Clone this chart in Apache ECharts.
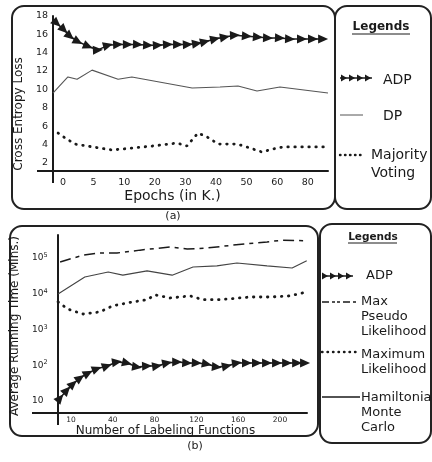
<!DOCTYPE html>
<html>
<head>
<meta charset="utf-8">
<script src="https://cdn.jsdelivr.net/npm/echarts@6/dist/echarts.min.js"></script>
<style>
  html, body { margin: 0; padding: 0; background: #fff; }
  #chart { width: 432px; height: 462px; }
</style>
</head>
<body>
<div id="chart"></div>
<script>
// (a) loss per epoch. x values are positions on the (unevenly labelled) epoch axis: 0 = "0", 1 = "5", ...
const epochLabels = ['0', '5', '10', '20', '30', '40', '50', '60', '80'];
const lossTicks = [2, 4, 6, 8, 10, 12, 14, 16, 18];

const adpA_x = [-0.2, 0.03, 0.23, 0.49, 0.82, 1.14, 1.47, 1.8, 2.12, 2.45, 2.78, 3.1, 3.43, 3.76,
    4.08, 4.38, 4.64, 4.97, 5.29, 5.62, 6.01, 6.37, 6.7, 7.09, 7.42, 7.81, 8.17, 8.5];
const adpA_y = [17.2, 16.5, 15.8, 15.2, 14.7, 14.3, 14.8, 14.9, 14.9, 14.9, 14.8, 14.8, 14.9, 14.9,
    14.9, 15.0, 15.2, 15.5, 15.7, 15.9, 15.8, 15.7, 15.6, 15.6, 15.5, 15.5, 15.5, 15.5];

const dpA_x = [-0.33, 0.16, 0.46, 0.95, 1.8, 2.25, 4.22, 5.13, 5.72, 6.34, 7.09, 8.66];
const dpA_y = [9.6, 11.35, 11.1, 12.1, 11.1, 11.35, 10.15, 10.26, 10.37, 9.82, 10.26, 9.6];

const mvA_x = [-0.16, 0.07, 0.39, 0.98, 1.6, 2.29, 2.94, 3.73, 4.05, 4.41, 4.71, 5.07, 5.69, 6.01,
    6.5, 6.86, 7.19, 8.63];
const mvA_y = [5.24, 4.7, 4.04, 3.72, 3.39, 3.61, 3.83, 4.15, 3.83, 5.24, 4.81, 4.04, 4.04, 3.72,
    3.17, 3.5, 3.72, 3.72];

// (b) running time per number of labeling functions, same idea for x
const lfLabels = ['10', '40', '80', '120', '160', '200'];
const timeTicks = [10, 100, 1000, 10000, 100000];

const adpB_x = [-0.26, -0.1, 0.05, 0.22, 0.41, 0.62, 0.86, 1.1, 1.34, 1.58, 1.82, 2.06, 2.3, 2.54,
    2.78, 3.01, 3.25, 3.49, 3.73, 3.97, 4.21, 4.45, 4.69, 4.93, 5.17, 5.41, 5.6];
const adpB_y = [12, 20, 30, 44, 60, 79, 95, 123, 115, 89, 95, 95, 115, 123,
    115, 115, 108, 89, 95, 115, 115, 115, 115, 115, 115, 115, 115];

const mpl_x = [-0.26, 0.29, 0.69, 1.1, 1.65, 2.37, 2.78, 3.25, 3.88, 4.69, 5.07, 5.64];
const mpl_y = [77600, 120000, 138000, 138000, 166000, 204000, 178000, 190000, 229000, 282000, 316000, 302000];

const ml_x = [-0.31, -0.07, 0.29, 0.69, 1.0, 1.48, 1.82, 2.01, 2.37, 2.85, 3.16, 3.56, 4.28, 4.76, 5.24, 5.64];
const ml_y = [5900, 3700, 2700, 3100, 4600, 5900, 6800, 9300, 7600, 8700, 6800, 6800, 8100, 8100, 8700, 11200];

const hmc_x = [-0.31, 0.33, 0.89, 1.24, 1.82, 2.42, 2.92, 3.49, 3.97, 4.69, 5.29, 5.64];
const hmc_y = [9800, 29500, 40700, 33100, 43600, 33100, 56200, 60300, 72400, 60300, 52500, 83200];

const zip = (xs, ys) => xs.map((x, i) => [x, ys[i]]);
const FONT = 'DejaVu Sans';
const INK = '#1a1a1a';

const chart = echarts.init(document.getElementById('chart'));

function triangles(x0, y, n, step) {
    const out = [];
    for (let i = 0; i < n; i++) {
        const x = x0 + i * step;
        out.push({ type: 'polygon', shape: { points: [[x, y - 3.5], [x + 6, y], [x, y + 3.5]] }, style: { fill: INK } });
    }
    return out;
}

function legendText(text, x, y, size, lh) {
    return { type: 'text', x: x, y: y, style: { text: text, fill: INK, fontFamily: FONT, fontSize: size, lineHeight: lh, verticalAlign: 'top' } };
}

const frame = { fill: 'none', stroke: '#222', lineWidth: 2 };

const option = {
    animation: false,
    textStyle: { fontFamily: FONT, color: INK },
    grid: [
        { left: 53, right: 104, top: 16, bottom: 291 },
        { left: 58, right: 125, top: 235, bottom: 49 }
    ],
    xAxis: [
        {
            type: 'value', gridIndex: 0, min: -0.327, max: 8.66,
            name: 'Epochs (in K.)', nameLocation: 'middle', nameGap: 15,
            nameTextStyle: { fontSize: 14, color: INK, padding: [0, 36, 0, 0] },
            axisLine: { onZero: false, lineStyle: { color: INK, width: 2 } },
            axisTick: { show: true, customValues: [-0.327], length: 12, lineStyle: { color: INK, width: 2 } },
            axisLabel: { customValues: epochLabels.map((_, i) => i), formatter: v => epochLabels[Math.round(v)], fontSize: 9.5, margin: 7, color: INK },
            splitLine: { show: false }
        },
        {
            type: 'value', gridIndex: 1, min: -0.311, max: 5.646,
            name: 'Number of Labeling Functions', nameLocation: 'middle', nameGap: 11,
            nameTextStyle: { fontSize: 12, color: INK, padding: [0, 34, 0, 0] },
            axisLine: { onZero: false, lineStyle: { color: INK, width: 2 } },
            axisTick: { show: true, customValues: [-0.311], length: 12, lineStyle: { color: INK, width: 2 } },
            axisLabel: { customValues: lfLabels.map((_, i) => i), formatter: v => lfLabels[Math.round(v)], fontSize: 7.5, margin: 3, color: INK },
            splitLine: { show: false }
        }
    ],
    yAxis: [
        {
            type: 'value', gridIndex: 0, min: 1.1, max: 18,
            name: 'Cross Entropy Loss', nameLocation: 'middle', nameGap: 19,
            nameTextStyle: { fontSize: 12, color: INK, padding: [0, 41, 0, 0] },
            axisLine: { show: true, onZero: false, lineStyle: { color: INK, width: 2 } },
            axisTick: { show: true, customValues: [1.1], length: 16, lineStyle: { color: INK, width: 2 } },
            axisLabel: { customValues: lossTicks, fontSize: 9.5, margin: 5, color: INK },
            splitLine: { show: false }
        },
        {
            type: 'log', gridIndex: 1, min: 4.6, max: 440000,
            name: 'Average Running Time (Mins.)', nameLocation: 'middle', nameGap: 29,
            nameTextStyle: { fontSize: 12, color: INK, padding: [0, 4, 0, 0] },
            axisLine: { show: true, onZero: false, lineStyle: { color: INK, width: 2 } },
            axisTick: { show: true, customValues: [4.6], length: 26, lineStyle: { color: INK, width: 2 } },
            axisLabel: {
                customValues: timeTicks, align: 'left', margin: 26, fontSize: 9, color: INK,
                formatter: v => {
                    const e = Math.round(Math.log10(v));
                    return e === 1 ? '10' : '10{sup|' + e + '}';
                },
                rich: { sup: { fontSize: 6.5, verticalAlign: 'top', padding: [0, 0, 5, 0], color: INK } }
            },
            splitLine: { show: false }
        }
    ],
    series: [
        { id: 'adpA', name: 'ADP', type: 'line', xAxisIndex: 0, yAxisIndex: 0, data: zip(adpA_x, adpA_y),
          symbol: 'triangle', symbolSize: [9, 10], symbolRotate: -90, itemStyle: { color: INK },
          lineStyle: { color: INK, width: 1.5 } },
        { name: 'DP', type: 'line', xAxisIndex: 0, yAxisIndex: 0, data: zip(dpA_x, dpA_y),
          symbol: 'none', lineStyle: { color: '#555', width: 1.1 } },
        { name: 'Majority Voting', type: 'line', xAxisIndex: 0, yAxisIndex: 0, data: zip(mvA_x, mvA_y),
          symbol: 'none', lineStyle: { color: INK, width: 2.8, type: [0.5, 6.5], cap: 'round' } },

        { id: 'adpB', name: 'ADP', type: 'line', xAxisIndex: 1, yAxisIndex: 1, data: zip(adpB_x, adpB_y),
          symbol: 'triangle', symbolSize: [9, 10], symbolRotate: -90, itemStyle: { color: INK },
          lineStyle: { color: INK, width: 1.5 } },
        { name: 'Max Pseudo Likelihood', type: 'line', xAxisIndex: 1, yAxisIndex: 1, data: zip(mpl_x, mpl_y),
          symbol: 'none', lineStyle: { color: INK, width: 1.5, type: [11, 5, 4, 5] } },
        { name: 'Maximum Likelihood', type: 'line', xAxisIndex: 1, yAxisIndex: 1, data: zip(ml_x, ml_y),
          symbol: 'none', lineStyle: { color: INK, width: 2.8, type: [0.5, 6.5], cap: 'round' } },
        { name: 'Hamiltonian Monte Carlo', type: 'line', xAxisIndex: 1, yAxisIndex: 1, data: zip(hmc_x, hmc_y),
          symbol: 'none', lineStyle: { color: '#444', width: 1.1 } }
    ],
    graphic: [
        // frames
        { type: 'rect', shape: { x: 12, y: 6, width: 323, height: 203, r: 12 }, style: frame },
        { type: 'rect', shape: { x: 335, y: 6, width: 96, height: 203, r: 12 }, style: frame },
        { type: 'rect', shape: { x: 10, y: 226, width: 308, height: 210, r: 12 }, style: frame },
        { type: 'rect', shape: { x: 320, y: 224, width: 111, height: 219, r: 12 }, style: frame },
        // captions
        { type: 'text', x: 173, y: 216, style: { text: '(a)', fontFamily: FONT, fontSize: 11, fill: INK, align: 'center', verticalAlign: 'middle' } },
        { type: 'text', x: 195, y: 446, style: { text: '(b)', fontFamily: FONT, fontSize: 11, fill: INK, align: 'center', verticalAlign: 'middle' } },

        // legend (a)
        { type: 'text', x: 381, y: 27, style: { text: 'Legends', fontFamily: FONT, fontWeight: 'bold', fontSize: 12, fill: INK, align: 'center', verticalAlign: 'middle' } },
        { type: 'line', shape: { x1: 352, y1: 34, x2: 410, y2: 34 }, style: { stroke: INK, lineWidth: 1 } },
        { type: 'line', shape: { x1: 340, y1: 78, x2: 372, y2: 78 }, style: { stroke: INK, lineWidth: 1.5 } },
        ...triangles(341, 78, 4, 8),
        legendText('ADP', 383, 71, 14, 18),
        { type: 'line', shape: { x1: 340, y1: 115, x2: 363, y2: 115 }, style: { stroke: '#555', lineWidth: 1 } },
        legendText('DP', 383, 107, 14, 18),
        { type: 'line', shape: { x1: 340, y1: 155, x2: 362, y2: 155 }, style: { stroke: INK, lineWidth: 2.4, lineDash: [0.5, 4.5], lineCap: 'round' } },
        legendText('Majority\nVoting', 371, 146, 14, 18),

        // legend (b)
        { type: 'text', x: 373, y: 237, style: { text: 'Legends', fontFamily: FONT, fontWeight: 'bold', fontSize: 10.5, fill: INK, align: 'center', verticalAlign: 'middle' } },
        { type: 'line', shape: { x1: 348, y1: 243, x2: 397, y2: 243 }, style: { stroke: INK, lineWidth: 1 } },
        { type: 'line', shape: { x1: 322, y1: 276, x2: 353, y2: 276 }, style: { stroke: INK, lineWidth: 1.5 } },
        ...triangles(322, 276, 4, 8),
        legendText('ADP', 366, 268, 13, 15),
        { type: 'line', shape: { x1: 322, y1: 302, x2: 356, y2: 302 }, style: { stroke: INK, lineWidth: 1.3, lineDash: [7, 3, 3, 2, 3, 3] } },
        legendText('Max\nPseudo\nLikelihood', 361, 294.5, 13, 15),
        { type: 'line', shape: { x1: 322, y1: 352, x2: 358, y2: 352 }, style: { stroke: INK, lineWidth: 2.4, lineDash: [0.5, 5], lineCap: 'round' } },
        legendText('Maximum\nLikelihood', 361, 347.5, 13, 15),
        { type: 'line', shape: { x1: 322, y1: 397, x2: 360, y2: 397 }, style: { stroke: INK, lineWidth: 1.5 } },
        legendText('Hamiltonian\nMonte\nCarlo', 361, 390.5, 13, 15)
    ]
};

chart.setOption(option);

// point each ADP triangle along the line, using the pixel positions the axes give
function headings(points, gridIndex) {
    const px = points.map(p => chart.convertToPixel({ gridIndex: gridIndex }, p));
    return points.map((p, i) => {
        const a = px[Math.max(i - 1, 0)];
        const b = px[Math.min(i + 1, px.length - 1)];
        return { value: p, symbolRotate: -90 - Math.atan2(b[1] - a[1], b[0] - a[0]) * 180 / Math.PI };
    });
}

chart.setOption({
    series: [
        { id: 'adpA', data: headings(zip(adpA_x, adpA_y), 0) },
        { id: 'adpB', data: headings(zip(adpB_x, adpB_y), 1) }
    ]
});
</script>
</body>
</html>
